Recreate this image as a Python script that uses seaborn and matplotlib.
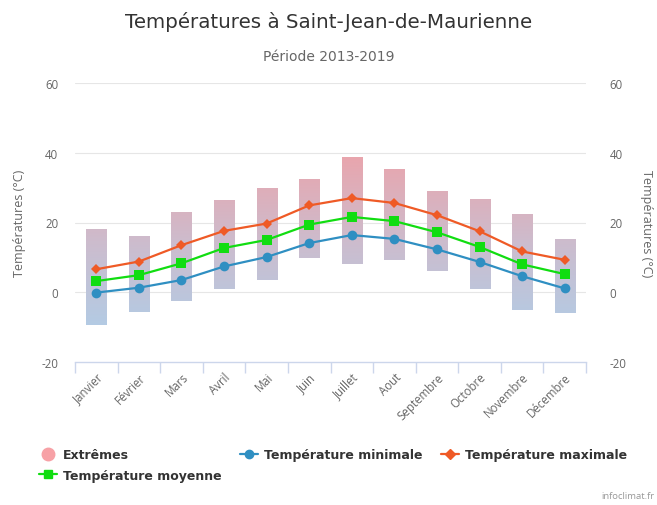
import numpy as np
import matplotlib
matplotlib.use("Agg")
import matplotlib.pyplot as plt
from matplotlib.colors import LinearSegmentedColormap
from matplotlib.lines import Line2D
import seaborn as sns

months = ["Janvier", "Février", "Mars", "Avril", "Mai", "Juin", "Juillet",
          "Aout", "Septembre", "Octobre", "Novembre", "Décembre"]
t_min = [-0.1, 1.3, 3.5, 7.4, 10.1, 14.1, 16.4, 15.3, 12.3, 8.7, 4.6, 1.1]
t_mean = [3.2, 4.9, 8.3, 12.7, 15.0, 19.4, 21.6, 20.4, 17.2, 13.0, 8.0, 5.2]
t_max = [6.6, 8.8, 13.5, 17.6, 19.7, 24.9, 27.0, 25.6, 22.1, 17.5, 11.7, 9.3]
ext_low = [-9.4, -5.6, -2.4, 0.9, 3.6, 9.9, 8.1, 9.3, 6.0, 0.8, -5.0, -6.0]
ext_high = [18.2, 16.1, 23.1, 26.4, 30.0, 32.6, 38.9, 35.4, 29.0, 26.8, 22.4, 15.4]

sns.set_theme(style="white")
plt.rcParams["font.family"] = ["Open Sans", "DejaVu Sans"]
head_font = ["DejaVu Sans"]

fig = plt.figure(figsize=(6.57, 5.06), dpi=100)
ax = fig.add_axes([75 / 657, 1 - 363 / 506, 511 / 657, 279 / 506])

x = np.arange(len(months))
ax.set_xlim(-0.5, 11.5)
ax.set_ylim(-20, 60)

# floating bars (extremes) filled with a vertical gradient
bars = ax.bar(x, np.array(ext_high) - np.array(ext_low), bottom=ext_low,
              width=0.47, color="none", edgecolor="none", zorder=1)
grad = LinearSegmentedColormap.from_list("ext", ["#b3cbe4", "#cdbccd", "#e9a5ad"])
ramp = np.linspace(0, 1, 256).reshape(-1, 1)
for b in bars:
    im = ax.imshow(ramp, cmap=grad, origin="lower", aspect="auto",
                   extent=(-0.5, 11.5, -10, 39), zorder=1)
    im.set_clip_path(b)

for yv in [0, 20, 40, 60]:
    ax.axhline(yv, color="#e6e6e6", lw=0.8, zorder=0)

sns.lineplot(x=x, y=t_min, ax=ax, color="#2f8fc2", lw=1.6, marker="o",
             markersize=7, markeredgewidth=0, zorder=3)
sns.lineplot(x=x, y=t_mean, ax=ax, color="#11dd11", lw=1.6, marker="s",
             markersize=7, markeredgewidth=0, zorder=3)
sns.lineplot(x=x, y=t_max, ax=ax, color="#ef5a26", lw=1.6, marker="D",
             markersize=5.5, markeredgewidth=0, zorder=3)

for s in ["top", "left", "right"]:
    ax.spines[s].set_visible(False)
ax.spines["bottom"].set_color("#ccd6eb")
ax.spines["bottom"].set_linewidth(1)

ax.set_xticks(np.arange(-0.5, 12, 1))
ax.set_xticklabels([])
ax.tick_params(axis="x", which="major", length=8, color="#ccd6eb", width=1, bottom=True)
ax.set_xticks(x, minor=True)
ax.set_xticklabels(months, minor=True, rotation=45, ha="right",
                   rotation_mode="anchor", fontsize=8.3, color="#666666")
ax.tick_params(axis="x", which="minor", length=0, pad=6)

yt = [-20, 0, 20, 40, 60]
ax.set_yticks(yt)
ax.set_yticklabels([str(v) for v in yt], fontsize=8.3, color="#666666")
ax.tick_params(axis="y", length=0, pad=12)
ax.set_ylabel("Températures (°C)", fontsize=9, color="#666666", labelpad=11)
ax.grid(False)

ax2 = ax.twinx()
ax2.set_ylim(-20, 60)
ax2.set_yticks(yt)
ax2.set_yticklabels([str(v) for v in yt], fontsize=8.3, color="#666666")
ax2.tick_params(axis="y", length=0, pad=17)
for s in ax2.spines.values():
    s.set_visible(False)
ax2.set_ylabel("Températures (°C)", fontsize=9, color="#666666",
               rotation=270, labelpad=19)
ax2.grid(False)

fig.text(0.5, 1 - 22 / 506, "Températures à Saint-Jean-de-Maurienne",
         ha="center", va="center", fontsize=14.3, color="#333333", family=head_font)
fig.text(0.5, 1 - 57 / 506, "Période 2013-2019", ha="center", va="center",
         fontsize=10, color="#666666", family=head_font)

handles = [
    Line2D([], [], ls="none", marker="o", markersize=9, color="#f7a1a6"),
    Line2D([], [], color="#11dd11", lw=1.6, marker="s", markersize=6),
    Line2D([], [], color="#2f8fc2", lw=1.6, marker="o", markersize=6),
    Line2D([], [], color="#ef5a26", lw=1.6, marker="D", markersize=5),
]
labels = ["Extrêmes", "Température moyenne", "Température minimale", "Température maximale"]
leg = fig.legend(handles, labels, loc="upper left", bbox_to_anchor=(28 / 657, 1 - 438 / 506),
                 ncol=3, frameon=False, handlelength=1.4, handletextpad=0.5,
                 columnspacing=1.5, labelspacing=0.6,
                 prop={"size": 9, "weight": "bold", "family": head_font})
for t in leg.get_texts():
    t.set_color("#333333")

fig.text(1 - 3 / 657, 1 - 497 / 506, "infoclimat.fr", ha="right", va="center",
         fontsize=6.8, color="#999999")

fig.savefig("out.png", dpi=100)
